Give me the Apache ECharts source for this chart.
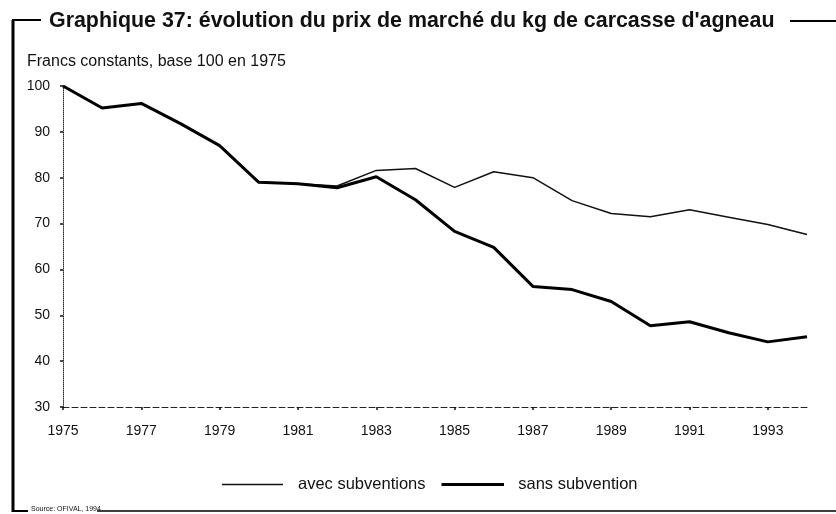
<!DOCTYPE html>
<html>
<head>
<meta charset="utf-8">
<script src="https://cdn.jsdelivr.net/npm/echarts@6/dist/echarts.min.js"></script>
<style>
  html, body { margin: 0; padding: 0; background: #ffffff; }
  #chart { width: 836px; height: 514px; }
</style>
</head>
<body>
<div id="chart"></div>
<script>
// Années (axe horizontal)
const years = ['1975', '1976', '1977', '1978', '1979', '1980', '1981', '1982', '1983', '1984',
               '1985', '1986', '1987', '1988', '1989', '1990', '1991', '1992', '1993', '1994'];

// Prix du kg de carcasse, francs constants, base 100 en 1975
const avecSubventions = [100, 95.2, 96.2, 91.8, 87, 79, 78.7, 78.2, 81.6, 82,
                         77.9, 81.3, 80, 75, 72.2, 71.5, 73, 71.4, 69.8, 67.6];
const sansSubvention  = [100, 95.2, 96.2, 91.8, 87, 79, 78.7, 77.8, 80.2, 75.2,
                         68.3, 64.8, 56.3, 55.6, 53, 47.7, 48.6, 46.2, 44.2, 45.3];

// Graduations de l'axe vertical
const yMin = 30, yMax = 100, yStep = 10;

const titleText = "Graphique 37: évolution du prix de marché du kg de carcasse d'agneau";
const unitText = 'Francs constants, base 100 en 1975';
const sourceText = 'Source: OFIVAL, 1994';
const seriesNames = ['avec subventions', 'sans subvention'];

const FONT = '"Liberation Sans", Arial, Helvetica, sans-serif';
const chart = echarts.init(document.getElementById('chart'), null, { renderer: 'canvas' });

chart.setOption({
  animation: false,
  backgroundColor: '#ffffff',
  textStyle: { fontFamily: FONT, color: '#111' },
  grid: { left: 63, right: 29, top: 86, bottom: 107, containLabel: false },
  title: {
    text: titleText,
    left: 44, top: 6,
    textStyle: { fontFamily: FONT, fontSize: 21.4, fontWeight: 'bold', color: '#111' }
  },
  legend: {
    left: 217, top: 471,
    itemWidth: 61, itemHeight: 1.5, itemGap: 16,
    textStyle: { fontFamily: FONT, fontSize: 16.5, color: '#111', padding: [0, 0, 0, 10] },
    data: [
      { name: seriesNames[0], icon: 'rect', itemStyle: { color: '#111', borderWidth: 0 } },
      { name: seriesNames[1], icon: 'rect', itemStyle: { color: '#000', borderColor: '#000', borderWidth: 1.5 } }
    ]
  },
  xAxis: {
    type: 'category',
    data: years,
    boundaryGap: false,
    axisLine: { lineStyle: { color: '#222', width: 1, type: [6, 3] } },
    axisTick: { show: true, length: 3, alignWithLabel: true, lineStyle: { color: '#111', width: 1.5 } },
    axisLabel: { interval: 1, margin: 17, fontSize: 14, color: '#111', fontFamily: FONT },
    splitLine: { show: false }
  },
  yAxis: {
    type: 'value',
    min: yMin, max: yMax, interval: yStep,
    axisLine: { show: true, lineStyle: { color: '#333', width: 1, type: 'dotted' } },
    axisTick: { show: true, length: 3, lineStyle: { color: '#111', width: 1.5 } },
    axisLabel: { margin: 13, fontSize: 14, color: '#111', fontFamily: FONT },
    splitLine: { show: false }
  },
  series: [
    {
      name: seriesNames[0], type: 'line', data: avecSubventions,
      symbol: 'none', smooth: false, z: 3,
      lineStyle: { color: '#111', width: 1.5 },
      itemStyle: { color: '#111' }
    },
    {
      name: seriesNames[1], type: 'line', data: sansSubvention,
      symbol: 'none', smooth: false, z: 4,
      lineStyle: { color: '#000', width: 3 },
      itemStyle: { color: '#000' }
    }
  ],
  graphic: [
    // encadrement du graphique
    { type: 'line', shape: { x1: 13, y1: 20, x2: 13, y2: 512 }, style: { stroke: '#000', lineWidth: 3 } },
    { type: 'line', shape: { x1: 12, y1: 20, x2: 41, y2: 20 }, style: { stroke: '#000', lineWidth: 2 } },
    { type: 'line', shape: { x1: 790, y1: 21, x2: 836, y2: 21 }, style: { stroke: '#000', lineWidth: 2 } },
    { type: 'line', shape: { x1: 12, y1: 511, x2: 28, y2: 511 }, style: { stroke: '#000', lineWidth: 2 } },
    { type: 'line', shape: { x1: 97, y1: 511, x2: 836, y2: 511 }, style: { stroke: '#000', lineWidth: 1.5 } },
    { type: 'text', left: 31, top: 506, style: { text: sourceText, fontFamily: FONT, fontSize: 7, fill: '#111' } },
    { type: 'text', left: 27, top: 54, style: { text: unitText, fontFamily: FONT, fontSize: 16, fill: '#111' } }
  ]
});
</script>
</body>
</html>
